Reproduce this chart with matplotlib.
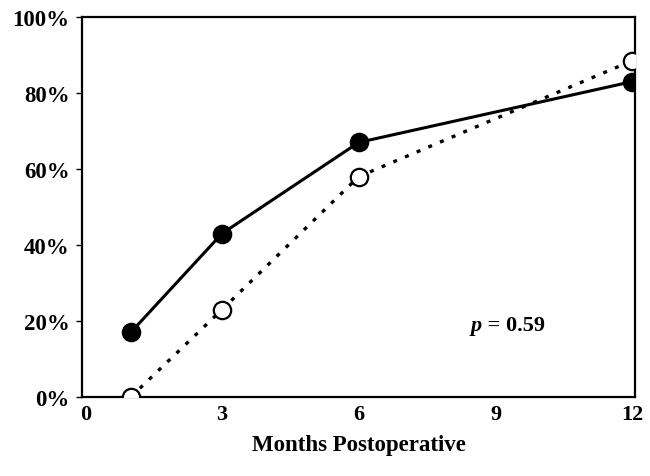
import matplotlib.pyplot as plt

months = [1, 3, 6, 12]
filled_vals = [17, 43, 67, 83]
open_vals = [0, 23, 58, 88.5]
x_ticks = [0, 3, 6, 9, 12]
y_ticks = [0, 20, 40, 60, 80, 100]
y_labels = ["0%", "20%", "40%", "60%", "80%", "100%"]

plt.rcParams['font.family'] = ['Liberation Serif', 'DejaVu Serif']
plt.rcParams['font.weight'] = 'bold'

fig = plt.figure(figsize=(6.5, 4.77), dpi=100)
ax = fig.add_axes([82 / 650, 79 / 477, 553 / 650, 380 / 477])

ax.plot(months, open_vals, color="black", lw=2.4, ls=(0, (1.2, 2.6)),
        marker="o", ms=12.5, mfc="white", mec="black", mew=1.6, zorder=3)
ax.plot(months, filled_vals, color="black", lw=2.2, ls="-",
        marker="o", ms=12.5, mfc="black", mec="black", mew=1.6, zorder=4)

ax.set_xlim(-0.07, 12.06)
ax.set_ylim(0, 100)
ax.set_xticks(x_ticks)
ax.set_xticklabels([str(t) for t in x_ticks], fontsize=16, fontweight="bold")
ax.set_yticks(y_ticks)
ax.set_yticklabels(y_labels, fontsize=16.5, fontweight="bold")
ax.tick_params(axis="x", length=0, pad=5)
ax.tick_params(axis="y", length=4, width=1, pad=5)
for s in ax.spines.values():
    s.set_linewidth(1.6)

ax.set_xlabel("Months Postoperative", fontsize=16.5, fontweight="bold", labelpad=7)
ptxt = ax.text(8.45, 19, "p", fontsize=16, fontweight="bold", fontstyle="italic",
               ha="left", va="center")
ax.annotate(" = 0.59", xy=(1, 0.5), xycoords=ptxt, fontsize=16, fontweight="bold",
            ha="left", va="center")

fig.savefig("out.png", dpi=100)
